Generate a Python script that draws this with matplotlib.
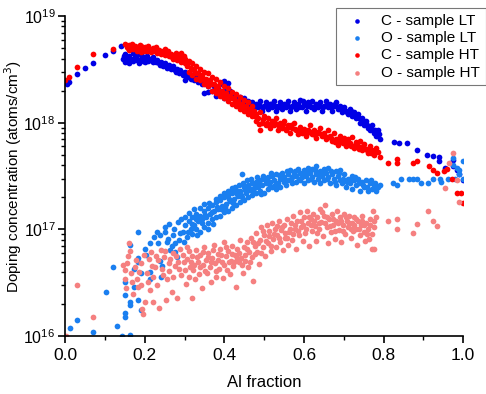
import matplotlib
matplotlib.use("Agg")
import matplotlib.pyplot as plt
from matplotlib.ticker import LogLocator, MultipleLocator

plt.rcParams['font.family'] = ['Liberation Sans', 'DejaVu Sans']

# C - sample LT
c_lt_x = [0.005, 0.01, 0.03, 0.05, 0.07, 0.10, 0.12, 0.14,
          0.145, 0.15, 0.15, 0.155, 0.16, 0.16, 0.165, 0.17, 0.17, 0.175, 0.18, 0.18,
          0.185, 0.19, 0.19, 0.195, 0.20, 0.20, 0.205, 0.21, 0.215, 0.22, 0.22, 0.225,
          0.23, 0.235, 0.24, 0.245, 0.25, 0.255, 0.26, 0.265, 0.27, 0.275, 0.28, 0.285,
          0.29, 0.295, 0.30, 0.30,
          0.305, 0.31, 0.315, 0.32, 0.325, 0.33, 0.335, 0.34, 0.345, 0.35, 0.35, 0.355,
          0.36, 0.36, 0.365, 0.37, 0.375, 0.38, 0.385, 0.39, 0.395, 0.40, 0.40, 0.405,
          0.41, 0.41, 0.415, 0.42, 0.425, 0.43, 0.435, 0.44, 0.445, 0.45,
          0.455, 0.46, 0.465, 0.47, 0.475, 0.48, 0.485, 0.49, 0.495, 0.50, 0.505, 0.51,
          0.515, 0.52, 0.525, 0.53, 0.535, 0.54, 0.545, 0.55, 0.555, 0.56, 0.565, 0.57,
          0.575, 0.58, 0.585, 0.59, 0.595, 0.60, 0.605, 0.61, 0.615, 0.62, 0.625, 0.63,
          0.635, 0.64, 0.645, 0.65, 0.655, 0.66, 0.665, 0.67, 0.675, 0.68, 0.685, 0.69,
          0.695, 0.70,
          0.705, 0.71, 0.715, 0.72, 0.725, 0.73, 0.735, 0.74, 0.745, 0.75, 0.755, 0.76,
          0.765, 0.77, 0.775, 0.78, 0.785, 0.79,
          0.825, 0.84, 0.86, 0.885, 0.91, 0.925, 0.94, 0.94, 0.955, 0.975, 0.975, 0.985,
          0.99, 1.0,
          0.148, 0.158, 0.168, 0.178, 0.188, 0.198, 0.208, 0.218, 0.228, 0.238, 0.248, 0.258,
          0.268, 0.278, 0.288, 0.298, 0.318, 0.338, 0.358, 0.378, 0.398, 0.418, 0.438, 0.458,
          0.468, 0.478, 0.488, 0.498, 0.508, 0.518, 0.528, 0.538, 0.548, 0.558, 0.568, 0.578,
          0.588, 0.598, 0.608, 0.618, 0.628, 0.638, 0.648, 0.658, 0.668, 0.678, 0.688, 0.698,
          0.708, 0.718, 0.728, 0.738, 0.748, 0.758, 0.768, 0.778, 0.788]
c_lt_y = [2.3e18, 2.4e18, 2.85e18, 3.25e18, 3.6e18, 4.3e18, 4.7e18, 5.2e18,
          4.0e18, 3.7e18, 4.4e18, 3.9e18, 4.2e18, 3.6e18, 4.0e18, 4.5e18, 3.8e18, 4.1e18, 3.9e18, 4.3e18,
          3.6e18, 4.0e18, 4.4e18, 3.8e18, 4.1e18, 3.7e18, 4.2e18, 3.9e18, 4.0e18, 3.7e18, 4.1e18, 3.8e18,
          3.9e18, 3.6e18, 3.7e18, 3.4e18, 3.6e18, 3.3e18, 3.5e18, 3.2e18, 3.4e18, 3.1e18, 3.2e18, 2.9e18,
          3.0e18, 2.8e18, 2.5e18, 3.0e18,
          2.7e18, 2.9e18, 2.6e18, 2.8e18, 2.5e18, 2.7e18, 2.4e18, 2.6e18, 2.3e18, 2.5e18, 1.9e18, 2.4e18,
          2.2e18, 1.95e18, 2.3e18, 2.0e18, 2.2e18, 1.8e18, 2.1e18, 1.9e18, 2.3e18, 2.45e18, 1.7e18, 2.1e18,
          2.35e18, 1.8e18, 2.0e18, 1.9e18, 1.7e18, 1.8e18, 1.6e18, 1.75e18, 1.55e18, 1.7e18,
          1.5e18, 1.6e18, 1.4e18, 1.55e18, 1.35e18, 1.5e18, 1.4e18, 1.6e18, 1.3e18, 1.45e18, 1.55e18, 1.35e18,
          1.5e18, 1.4e18, 1.6e18, 1.3e18, 1.45e18, 1.55e18, 1.35e18, 1.5e18, 1.4e18, 1.6e18, 1.3e18, 1.45e18,
          1.55e18, 1.35e18, 1.5e18, 1.65e18, 1.4e18, 1.5e18, 1.3e18, 1.55e18, 1.45e18, 1.6e18, 1.35e18, 1.5e18,
          1.4e18, 1.55e18, 1.3e18, 1.45e18, 1.6e18, 1.4e18, 1.5e18, 1.3e18, 1.45e18, 1.55e18, 1.35e18, 1.45e18,
          1.25e18, 1.4e18,
          1.3e18, 1.2e18, 1.35e18, 1.15e18, 1.25e18, 1.1e18, 1.2e18, 1.0e18, 1.1e18, 0.95e18, 1.05e18, 0.9e18,
          0.85e18, 0.95e18, 0.8e18, 0.75e18, 0.85e18, 0.7e18,
          6.6e17, 6.5e17, 6.4e17, 5.5e17, 5.0e17, 4.9e17, 4.8e17, 4.4e17, 3.8e17, 4.5e17, 3.9e17, 3.6e17,
          3.3e17, 2.9e17,
          4.2e18, 4.1e18, 3.9e18, 4.2e18, 3.8e18, 4.0e18, 3.8e18, 3.9e18, 3.7e18, 3.5e18, 3.5e18, 3.4e18,
          3.3e18, 3.0e18, 3.1e18, 2.9e18, 2.7e18, 2.5e18, 2.3e18, 2.1e18, 1.95e18, 1.85e18, 1.7e18, 1.45e18,
          1.5e18, 1.45e18, 1.5e18, 1.4e18, 1.45e18, 1.5e18, 1.45e18, 1.4e18, 1.45e18, 1.5e18, 1.4e18, 1.45e18,
          1.4e18, 1.6e18, 1.45e18, 1.4e18, 1.45e18, 1.5e18, 1.4e18, 1.5e18, 1.4e18, 1.5e18, 1.4e18, 1.35e18,
          1.25e18, 1.3e18, 1.15e18, 1.1e18, 1.0e18, 0.95e18, 0.9e18, 0.85e18, 0.78e18]

# O - sample LT
o_lt_x = [0.011, 0.031, 0.071, 0.102, 0.121, 0.131, 0.142, 0.162, 0.151, 0.151, 0.162, 0.162,
          0.151, 0.151, 0.162, 0.172, 0.172, 0.182, 0.182, 0.182, 0.182, 0.191, 0.191,
          0.20, 0.203, 0.213, 0.213, 0.213, 0.224, 0.23, 0.239, 0.239, 0.251, 0.234, 0.256,
          0.243, 0.24, 0.264, 0.27, 0.277, 0.277, 0.28, 0.289,
          0.295, 0.30, 0.305, 0.31, 0.315, 0.32, 0.32, 0.325, 0.33, 0.33, 0.335, 0.34,
          0.34, 0.345, 0.35, 0.35, 0.355, 0.36, 0.36, 0.365, 0.37, 0.37, 0.375, 0.38,
          0.38, 0.385, 0.39, 0.39, 0.395, 0.40, 0.40, 0.405, 0.41, 0.41, 0.415, 0.42,
          0.42, 0.425, 0.43, 0.43, 0.435, 0.44, 0.44, 0.445, 0.445, 0.45, 0.45, 0.455,
          0.46, 0.46, 0.465, 0.47, 0.47, 0.475, 0.48, 0.48, 0.485, 0.49, 0.49, 0.495,
          0.50, 0.50, 0.505, 0.51, 0.51, 0.515, 0.52, 0.52, 0.525, 0.53, 0.53, 0.535,
          0.54, 0.54, 0.545, 0.55, 0.55, 0.555, 0.56, 0.56, 0.565, 0.57, 0.57, 0.575,
          0.58, 0.58, 0.585, 0.59, 0.59, 0.595, 0.60, 0.60, 0.605, 0.61, 0.61, 0.615,
          0.62, 0.62, 0.625, 0.63, 0.63, 0.635, 0.64, 0.64, 0.645, 0.65, 0.65, 0.655,
          0.66, 0.66, 0.665, 0.67, 0.675, 0.68, 0.68, 0.685, 0.69, 0.69, 0.695, 0.70,
          0.705, 0.71, 0.715, 0.72, 0.72, 0.725, 0.73, 0.735, 0.74, 0.745, 0.75, 0.755,
          0.76, 0.765, 0.77, 0.775, 0.78, 0.785,
          0.824, 0.834, 0.844, 0.864, 0.874, 0.884, 0.894, 0.912, 0.924, 0.942, 0.945, 0.962,
          0.975, 0.975, 0.985, 0.99, 0.99, 1.0, 1.0, 0.98,
          0.252, 0.258, 0.262, 0.268, 0.274, 0.283, 0.286, 0.292, 0.298, 0.302, 0.308, 0.312,
          0.318, 0.323, 0.328, 0.332, 0.338, 0.343, 0.348, 0.352, 0.358, 0.362, 0.368, 0.372,
          0.378, 0.382, 0.388, 0.392, 0.398, 0.402, 0.408, 0.412, 0.418, 0.422, 0.428, 0.432,
          0.438, 0.442, 0.448, 0.452, 0.458, 0.462, 0.468, 0.472, 0.478, 0.482, 0.488, 0.492,
          0.498, 0.505, 0.512, 0.518, 0.527, 0.538, 0.548, 0.558, 0.568, 0.578, 0.588, 0.598,
          0.608, 0.618, 0.628, 0.638, 0.648, 0.658, 0.668, 0.678, 0.688, 0.698, 0.708, 0.718,
          0.728, 0.738, 0.748, 0.758, 0.768, 0.778, 0.782, 0.79]
o_lt_y = [1.2e16, 1.4e16, 1.1e16, 2.6e16, 4.4e16, 1.23e16, 1.0e16, 1.02e16, 1.66e16, 1.5e16, 2.1e16, 1.95e16,
          3.2e16, 2.45e16, 7.2e16, 2.9e16, 4.3e16, 5.4e16, 5.0e16, 2.2e16, 9.5e16, 3.9e16, 1.75e16,
          6.5e16, 5.8e16, 7.4e16, 4.0e16, 3.4e16, 8.5e16, 9.5e16, 8.9e16, 5.1e16, 9.5e16, 7.5e16, 7.6e16,
          4.5e16, 3.6e16, 6.4e16, 8.9e16, 7.4e16, 6.2e16, 5.5e16, 9.3e16,
          0.95e17, 1.1e17, 0.85e17, 1.2e17, 1.0e17, 1.3e17, 0.9e17, 1.1e17, 1.4e17, 1.0e17, 1.2e17, 1.35e17,
          0.95e17, 1.15e17, 1.5e17, 1.05e17, 1.3e17, 1.6e17, 1.15e17, 1.4e17, 1.25e17, 1.7e17, 1.5e17, 1.3e17,
          1.8e17, 1.55e17, 1.35e17, 1.9e17, 1.65e17, 1.45e17, 2.0e17, 1.75e17, 1.5e17, 2.1e17, 1.85e17, 1.6e17,
          2.2e17, 1.95e17, 1.7e17, 2.35e17, 2.05e17, 1.8e17, 2.3e17, 3.3e17, 2.0e17, 2.5e17, 1.9e17, 2.2e17,
          2.6e17, 2.0e17, 2.35e17, 2.7e17, 2.1e17, 2.45e17, 2.8e17, 2.2e17, 2.5e17, 2.9e17, 2.3e17, 2.6e17,
          3.0e17, 2.2e17, 2.7e17, 2.4e17, 3.1e17, 2.8e17, 2.5e17, 3.2e17, 2.9e17, 2.4e17, 3.3e17, 2.7e17,
          3.0e17, 2.5e17, 3.4e17, 2.8e17, 3.1e17, 2.6e17, 3.3e17, 2.9e17, 3.6e17, 2.7e17, 3.1e17, 3.4e17,
          2.8e17, 3.2e17, 3.7e17, 2.9e17, 3.4e17, 3.1e17, 3.6e17, 2.7e17, 3.2e17, 3.8e17, 2.9e17, 3.4e17,
          3.1e17, 3.7e17, 2.8e17, 3.3e17, 3.9e17, 3.0e17, 3.5e17, 2.7e17, 3.2e17, 3.7e17, 2.9e17, 3.4e17,
          3.1e17, 3.8e17, 2.7e17, 3.3e17, 3.0e17, 3.5e17, 2.6e17, 3.2e17, 2.9e17, 3.6e17, 2.7e17, 3.3e17,
          2.5e17, 3.0e17, 2.7e17, 3.2e17, 2.4e17, 2.9e17, 2.6e17, 3.0e17, 2.3e17, 2.8e17, 2.5e17, 2.9e17,
          2.3e17, 2.7e17, 2.4e17, 2.6e17, 2.3e17, 2.5e17,
          2.75e17, 2.6e17, 3.0e17, 3.0e17, 3.0e17, 3.0e17, 2.75e17, 2.7e17, 3.0e17, 3.0e17, 2.8e17, 3.0e17,
          4.7e17, 4.0e17, 3.8e17, 3.6e17, 3.3e17, 4.4e17, 2.95e17, 3.0e17,
          1.05e17, 8.2e16, 1.12e17, 7.0e16, 1.0e17, 1.18e17, 8.0e16, 1.25e17, 7.6e16, 1.32e17, 9.4e16, 1.42e17,
          1.12e17, 1.55e17, 1.25e17, 8.8e16, 1.6e17, 1.26e17, 1.72e17, 1.38e17, 1.02e17, 1.78e17, 1.45e17, 1.12e17,
          1.95e17, 1.62e17, 2.05e17, 1.55e17, 2.2e17, 1.62e17, 2.3e17, 1.95e17, 2.45e17, 1.78e17, 2.5e17, 2.15e17,
          2.6e17, 2.1e17, 2.75e17, 2.35e17, 2.9e17, 2.45e17, 3.0e17, 2.3e17, 2.65e17, 3.1e17, 2.7e17, 2.15e17,
          3.2e17, 2.95e17, 2.65e17, 3.35e17, 2.6e17, 3.25e17, 2.95e17, 3.5e17, 2.95e17, 3.55e17, 3.0e17, 3.3e17,
          3.55e17, 2.95e17, 3.6e17, 3.2e17, 3.5e17, 3.0e17, 3.55e17, 2.8e17, 3.4e17, 3.0e17, 2.8e17, 2.9e17,
          3.1e17, 2.7e17, 2.6e17, 2.5e17, 2.9e17, 2.7e17, 2.4e17, 2.6e17]

# C - sample HT
c_ht_x = [0.0, 0.01, 0.03, 0.07, 0.12,
          0.15, 0.155, 0.16, 0.16, 0.165, 0.17, 0.175, 0.18, 0.18, 0.185, 0.19, 0.19,
          0.195, 0.20, 0.205, 0.21, 0.215, 0.22, 0.225, 0.23, 0.235, 0.24, 0.245, 0.25,
          0.25, 0.255, 0.26, 0.265, 0.27, 0.275, 0.28, 0.285, 0.29, 0.29, 0.295, 0.30, 0.30,
          0.305, 0.31, 0.31, 0.315, 0.32, 0.32, 0.325, 0.33, 0.33, 0.335, 0.34, 0.34,
          0.345, 0.35, 0.35, 0.355, 0.36, 0.36, 0.365, 0.37, 0.37, 0.375, 0.38, 0.38,
          0.385, 0.39, 0.39, 0.395, 0.40, 0.40, 0.405, 0.41, 0.41, 0.415, 0.42, 0.42,
          0.425, 0.43, 0.43, 0.435, 0.44, 0.44, 0.445, 0.45, 0.45, 0.455, 0.46, 0.46,
          0.465, 0.47, 0.47, 0.475, 0.48, 0.48,
          0.485, 0.49, 0.49, 0.495, 0.50, 0.505, 0.51, 0.515, 0.52, 0.525, 0.53, 0.535,
          0.54, 0.545, 0.55, 0.555, 0.56, 0.565, 0.57, 0.575, 0.58, 0.585, 0.59, 0.595,
          0.60, 0.605, 0.61, 0.615, 0.62, 0.625, 0.63, 0.635, 0.64, 0.645, 0.65, 0.655,
          0.66, 0.665, 0.67,
          0.675, 0.68, 0.685, 0.69, 0.695, 0.70, 0.705, 0.71, 0.715, 0.72, 0.725, 0.73,
          0.735, 0.74, 0.745, 0.75, 0.755, 0.76, 0.765, 0.77, 0.775, 0.78, 0.785,
          0.79, 0.812, 0.833, 0.833, 0.874, 0.884, 0.913, 0.925, 0.934, 0.953, 0.96, 0.973,
          0.984, 0.994, 1.0,
          0.158, 0.168, 0.178, 0.188, 0.198, 0.208, 0.218, 0.228, 0.238, 0.248, 0.258, 0.268,
          0.278, 0.288, 0.298, 0.308, 0.318, 0.328, 0.338, 0.348, 0.358, 0.368, 0.378, 0.388,
          0.398, 0.408, 0.418, 0.428, 0.438, 0.448, 0.458, 0.468, 0.478, 0.488, 0.498, 0.508,
          0.518, 0.528, 0.538, 0.548, 0.558, 0.568, 0.578, 0.588, 0.598, 0.608, 0.618, 0.628,
          0.638, 0.648, 0.658, 0.668, 0.678, 0.688, 0.698, 0.708, 0.718, 0.728, 0.738, 0.748,
          0.758, 0.768, 0.778]
c_ht_y = [2.5e18, 2.7e18, 3.35e18, 4.4e18, 4.9e18,
          5.5e18, 5.1e18, 5.4e18, 4.8e18, 5.2e18, 4.9e18, 5.3e18, 4.7e18, 5.1e18, 4.9e18, 5.2e18, 4.6e18,
          4.9e18, 5.1e18, 4.7e18, 4.9e18, 4.6e18, 5.0e18, 4.7e18, 4.5e18, 4.8e18, 4.4e18, 4.7e18, 4.3e18,
          4.9e18, 4.5e18, 4.2e18, 4.4e18, 4.0e18, 4.3e18, 3.9e18, 4.1e18, 4.5e18, 3.7e18, 3.9e18, 3.6e18, 4.0e18,
          3.4e18, 3.8e18, 3.0e18, 3.3e18, 3.6e18, 2.8e18, 3.1e18, 3.4e18, 2.6e18, 2.9e18, 3.2e18, 2.5e18,
          2.8e18, 3.0e18, 2.3e18, 2.6e18, 2.9e18, 2.2e18, 2.5e18, 2.7e18, 2.0e18, 2.3e18, 2.6e18, 1.9e18,
          2.2e18, 2.4e18, 1.8e18, 2.0e18, 2.2e18, 1.7e18, 1.9e18, 2.1e18, 1.6e18, 1.8e18, 1.95e18, 1.5e18,
          1.7e18, 1.85e18, 1.45e18, 1.6e18, 1.75e18, 1.35e18, 1.5e18, 1.65e18, 1.3e18, 1.45e18, 1.55e18, 1.2e18,
          1.35e18, 1.45e18, 1.15e18, 1.3e18, 1.2e18, 1.05e18,
          1.1e18, 1.25e18, 0.85e18, 1.0e18, 1.15e18, 0.95e18, 1.1e18, 0.9e18, 1.05e18, 0.95e18, 1.1e18, 0.85e18,
          1.0e18, 0.9e18, 1.05e18, 0.85e18, 0.95e18, 0.8e18, 0.9e18, 1.0e18, 0.85e18, 0.78e18, 0.92e18, 0.8e18,
          0.88e18, 0.75e18, 0.85e18, 0.95e18, 0.78e18, 0.85e18, 0.72e18, 0.82e18, 0.9e18, 0.75e18, 0.8e18, 0.7e18,
          0.85e18, 0.75e18, 0.68e18,
          0.8e18, 0.7e18, 0.62e18, 0.76e18, 0.66e18, 0.72e18, 0.6e18, 0.7e18, 0.64e18, 0.74e18, 0.58e18, 0.66e18,
          0.6e18, 0.68e18, 0.55e18, 0.63e18, 0.57e18, 0.52e18, 0.6e18, 0.55e18, 0.5e18, 0.58e18, 0.53e18,
          4.8e17, 4.2e17, 4.6e17, 4.2e17, 4.2e17, 4.4e17, 3.9e17, 3.6e17, 3.4e17, 3.5e17, 3.7e17, 2.95e17,
          2.2e17, 2.2e17, 1.76e17,
          5.0e18, 5.5e18, 5.0e18, 5.4e18, 4.7e18, 5.2e18, 4.8e18, 5.1e18, 4.6e18, 4.5e18, 4.7e18, 4.1e18,
          4.5e18, 4.0e18, 4.2e18, 3.6e18, 3.2e18, 2.9e18, 2.7e18, 2.6e18, 2.4e18, 2.3e18, 2.1e18, 2.0e18,
          1.85e18, 1.75e18, 1.7e18, 1.55e18, 1.5e18, 1.4e18, 1.3e18, 1.25e18, 1.15e18, 0.98e18, 1.08e18, 1.0e18,
          0.97e18, 1.0e18, 0.93e18, 0.97e18, 0.9e18, 0.95e18, 0.88e18, 0.85e18, 0.84e18, 0.8e18, 0.82e18, 0.77e18,
          0.8e18, 0.78e18, 0.74e18, 0.72e18, 0.66e18, 0.69e18, 0.64e18, 0.66e18, 0.6e18, 0.62e18, 0.57e18, 0.6e18,
          0.55e18, 0.52e18, 0.55e18]

# O - sample HT
o_ht_x = [0.003, 0.031, 0.071,
          0.145, 0.15, 0.15, 0.152, 0.155, 0.16, 0.162, 0.165, 0.17, 0.175, 0.18, 0.183,
          0.19, 0.19, 0.192, 0.195, 0.20, 0.205, 0.21, 0.212, 0.218, 0.222, 0.222, 0.228,
          0.232, 0.236, 0.24, 0.243, 0.248, 0.254, 0.256, 0.26, 0.264, 0.27, 0.272, 0.276,
          0.28, 0.283, 0.288, 0.29, 0.295, 0.30, 0.303, 0.307, 0.31, 0.314, 0.318, 0.32,
          0.322, 0.326, 0.33, 0.333, 0.337, 0.34, 0.344, 0.347, 0.35, 0.353, 0.357, 0.36,
          0.364, 0.367, 0.37, 0.374, 0.377, 0.38, 0.383, 0.387, 0.39, 0.393, 0.397, 0.40,
          0.403, 0.407, 0.41, 0.413, 0.417, 0.42, 0.423, 0.427, 0.43, 0.433, 0.437, 0.44,
          0.443, 0.447, 0.45, 0.453, 0.457, 0.46, 0.463, 0.467, 0.47, 0.473, 0.477, 0.48,
          0.483, 0.487, 0.49, 0.493, 0.497, 0.50, 0.503, 0.507, 0.51, 0.513, 0.517, 0.52,
          0.523, 0.527, 0.53, 0.533, 0.537, 0.54, 0.543, 0.547, 0.55, 0.553, 0.557, 0.56,
          0.563, 0.567, 0.57, 0.573, 0.577, 0.58, 0.583, 0.587, 0.59, 0.593, 0.597, 0.60,
          0.603, 0.607, 0.61, 0.613, 0.617, 0.62, 0.623, 0.627, 0.63, 0.633, 0.637, 0.64,
          0.643, 0.647, 0.65, 0.653, 0.657, 0.66, 0.663, 0.667, 0.67, 0.673, 0.677, 0.68,
          0.683, 0.687, 0.69, 0.693, 0.697, 0.70, 0.703, 0.707, 0.71, 0.713, 0.717, 0.72,
          0.723, 0.727, 0.73, 0.733, 0.737, 0.74, 0.743, 0.747, 0.75, 0.753, 0.757, 0.76,
          0.763, 0.767, 0.77, 0.773, 0.775, 0.777, 0.78,
          0.812, 0.834, 0.834, 0.874, 0.884, 0.912, 0.925, 0.935, 0.955, 0.975, 0.965, 0.985,
          0.99,
          0.158, 0.168, 0.178, 0.186, 0.198, 0.208, 0.216, 0.226, 0.234, 0.246, 0.252, 0.262,
          0.268, 0.278, 0.286, 0.298, 0.305, 0.312, 0.316, 0.324, 0.332, 0.338, 0.346, 0.352,
          0.358, 0.366, 0.372, 0.378, 0.385, 0.392, 0.398, 0.405, 0.412, 0.418, 0.425, 0.432,
          0.438, 0.445, 0.452, 0.458, 0.465, 0.472, 0.478, 0.485, 0.492, 0.498, 0.505, 0.512,
          0.518, 0.525, 0.532, 0.538, 0.545, 0.552, 0.558, 0.565, 0.572, 0.578, 0.585, 0.592,
          0.598, 0.605, 0.612, 0.618, 0.625, 0.632, 0.638, 0.645, 0.652, 0.658, 0.665, 0.672,
          0.678, 0.685, 0.692, 0.698, 0.705, 0.712, 0.718, 0.725, 0.732, 0.738, 0.745, 0.752,
          0.758, 0.765, 0.772, 0.776]
o_ht_y = [1.0e16, 3.0e16, 1.5e16,
          4.6e16, 3.4e16, 4.2e16, 2.8e16, 4.8e16, 7.4e16, 6.3e16, 3.9e16, 2.5e16, 4.4e16, 3.4e16, 2.9e16,
          4.8e16, 3.0e16, 1.8e16, 1.6e16, 2.1e16, 3.9e16, 5.3e16, 2.7e16, 4.5e16, 3.6e16, 2.1e16, 5.6e16,
          3.0e16, 1.85e16, 6.4e16, 4.3e16, 5.5e16, 2.2e16, 3.4e16, 4.8e16, 5.3e16, 3.6e16, 6.0e16, 4.5e16,
          2.3e16, 5.0e16, 6.5e16, 3.7e16, 5.8e16, 4.2e16, 3.1e16, 5.3e16, 6.3e16, 4.4e16, 2.3e16, 5.6e16,
          4.2e16, 3.4e16, 6.4e16, 4.9e16, 3.8e16, 5.7e16, 2.8e16, 4.6e16, 6.8e16, 5.2e16, 3.9e16, 6.0e16,
          4.4e16, 3.2e16, 5.4e16, 7.2e16, 4.8e16, 3.6e16, 5.9e16, 4.3e16, 6.6e16, 5.0e16, 3.5e16, 7.6e16,
          5.6e16, 4.2e16, 6.3e16, 3.8e16, 5.1e16, 7.0e16, 4.5e16, 5.8e16, 2.9e16, 6.6e16, 4.9e16, 8.0e16,
          5.4e16, 3.9e16, 6.8e16, 5.1e16, 7.6e16, 4.4e16, 6.1e16, 8.4e16, 5.5e16, 3.3e16, 7.0e16, 9.2e16,
          6.2e16, 4.7e16, 8.0e16, 1.05e17, 6.8e16, 8.8e16, 5.6e16, 1.1e17, 7.4e16, 9.6e16, 6.3e16, 1.15e17,
          8.2e16, 1.0e17, 6.9e16, 8.8e16, 1.2e17, 7.6e16, 9.8e16, 6.4e16, 1.1e17, 8.4e16, 1.25e17, 7.2e16,
          9.4e16, 1.15e17, 8.0e16, 1.35e17, 1.0e17, 6.6e16, 1.2e17, 8.8e16, 1.45e17, 1.05e17, 7.8e16, 1.3e17,
          9.2e16, 1.5e17, 1.15e17, 7.0e16, 1.25e17, 9.6e16, 1.4e17, 1.08e17, 7.8e16, 1.3e17, 1.0e17, 1.55e17,
          1.18e17, 8.6e16, 1.35e17, 1.7e17, 1.05e17, 7.4e16, 1.25e17, 9.4e16, 1.4e17, 1.1e17, 8.2e16, 1.2e17,
          1.5e17, 9.8e16, 1.3e17, 7.6e16, 1.1e17, 1.4e17, 9.0e16, 1.2e17, 1.05e17, 1.35e17, 8.4e16, 1.15e17,
          9.6e16, 1.3e17, 1.0e17, 7.2e16, 1.2e17, 8.8e16, 1.1e17, 1.35e17, 9.4e16, 7.8e16, 1.15e17, 1.0e17,
          8.2e16, 1.25e17, 6.6e16, 1.5e17, 1.05e17, 6.6e16, 1.3e17,
          1.2e17, 1.25e17, 1.0e17, 9.3e16, 1.12e17, 1.5e17, 1.2e17, 1.07e17, 2.45e17, 5.2e17, 4.2e17, 2.9e17,
          1.8e17,
          5.6e16, 3.2e16, 5.2e16, 4.0e16, 5.8e16, 3.2e16, 6.2e16, 4.4e16, 5.2e16, 3.7e16, 6.3e16, 4.1e16,
          2.6e16, 5.6e16, 4.3e16, 4.9e16, 6.9e16, 3.6e16, 5.0e16, 4.6e16, 5.5e16, 4.4e16, 6.2e16, 4.1e16,
          5.5e16, 5.0e16, 6.4e16, 4.1e16, 5.2e16, 5.7e16, 4.6e16, 6.8e16, 5.0e16, 5.9e16, 4.9e16, 5.4e16,
          6.0e16, 4.6e16, 5.8e16, 6.6e16, 5.0e16, 7.6e16, 5.9e16, 7.4e16, 6.0e16, 9.6e16, 7.8e16, 8.6e16,
          7.0e16, 9.0e16, 1.08e17, 8.4e16, 1.05e17, 9.2e16, 8.4e16, 1.02e17, 9.0e16, 1.1e17, 9.6e16, 1.2e17,
          1.1e17, 1.0e17, 1.3e17, 1.1e17, 1.2e17, 9.2e16, 1.15e17, 1.45e17, 1.15e17, 1.3e17, 1.08e17, 1.25e17,
          9.6e16, 1.15e17, 1.2e17, 9.6e16, 1.3e17, 1.15e17, 1.02e17, 1.1e17, 1.25e17, 1.0e17, 1.2e17, 1.1e17,
          9.0e16, 1.1e17, 9.0e16, 1.2e17]

series = [
    (c_lt_x, c_lt_y, '#0000e6', 'C - sample LT'),
    (o_lt_x, o_lt_y, '#1a7ff0', 'O - sample LT'),
    (c_ht_x, c_ht_y, '#ff0000', 'C - sample HT'),
    (o_ht_x, o_ht_y, '#f58080', 'O - sample HT'),
]

fig = plt.figure(figsize=(4.86, 3.94), dpi=100)
ax = fig.add_axes([0.134, 0.147, 0.819, 0.812])

for x, y, col, lab in series:
    ax.scatter(x, y, s=17, color=col, linewidths=0, label=lab)

ax.set_yscale('log')
ax.set_xlim(0, 1.0)
ax.set_ylim(1e16, 1e19)
ax.xaxis.set_major_locator(MultipleLocator(0.2))
ax.xaxis.set_minor_locator(MultipleLocator(0.1))
ax.yaxis.set_major_locator(LogLocator(base=10, numticks=10))
ax.yaxis.set_minor_locator(LogLocator(base=10, subs=range(2, 10), numticks=10))

for side in ['top', 'right']:
    ax.spines[side].set_visible(False)
for side in ['left', 'bottom']:
    ax.spines[side].set_linewidth(1.2)

ax.tick_params(which='major', direction='out', length=5, width=1.2, labelsize=12.5)
ax.tick_params(which='minor', direction='out', length=3, width=1.0)
ax.tick_params(axis='y', which='major', pad=2, labelsize=11.5)

ax.set_xlabel('Al fraction', fontsize=12, labelpad=9)
ax.set_ylabel('Doping concentration (atoms/cm$^3$)', fontsize=11)
ax.yaxis.set_label_coords(-0.104, 0.5)

leg = ax.legend(loc='upper right', bbox_to_anchor=(0.999, 0.979), bbox_transform=fig.transFigure,
                borderaxespad=0, fontsize=11, frameon=True, fancybox=False, edgecolor='#555555',
                handlelength=2.0, handletextpad=0.6, borderpad=0.35, labelspacing=0.22,
                markerscale=0.8)
leg.get_frame().set_linewidth(0.8)

plt.savefig('out.png', dpi=100)
